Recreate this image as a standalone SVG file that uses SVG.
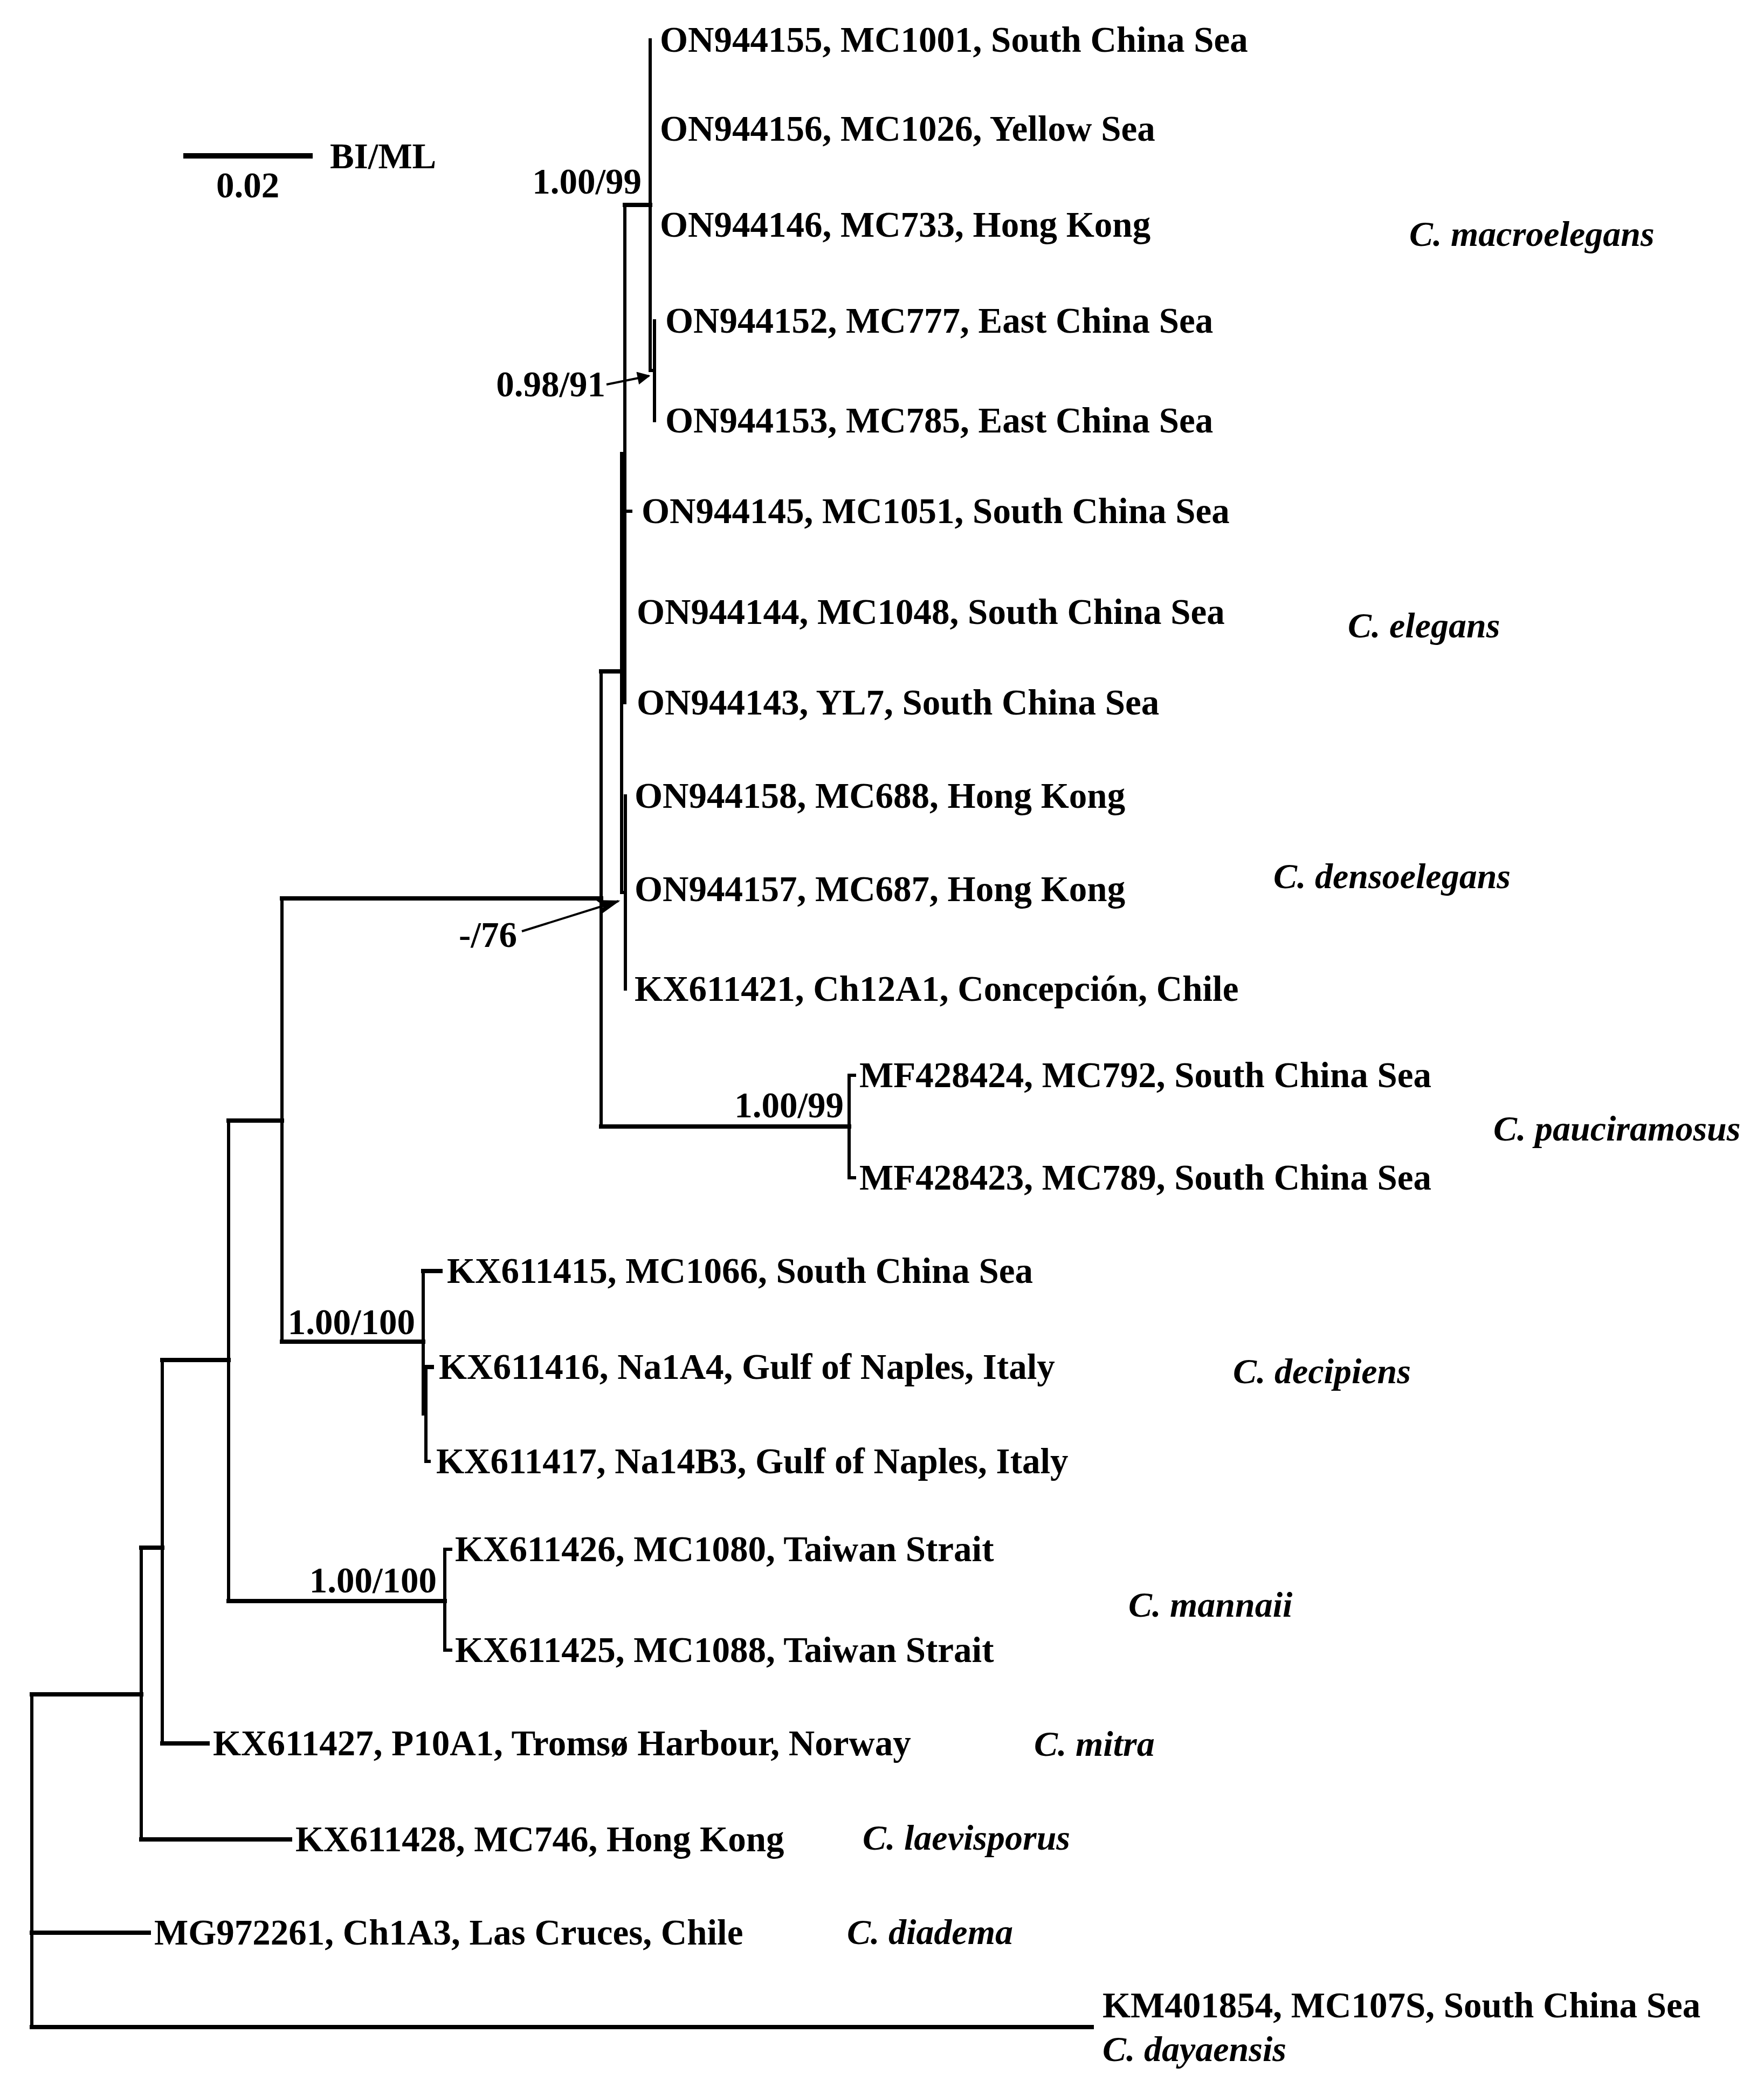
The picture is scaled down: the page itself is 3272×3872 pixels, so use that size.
<svg xmlns="http://www.w3.org/2000/svg" width="3272" height="3872" viewBox="0 0 3272 3872">
<style>
text{font-family:"Liberation Serif","Times New Roman",serif;font-weight:bold;font-size:67px;fill:#000}
.sp{font-style:italic;font-size:66px}
.e{text-anchor:end}
.h{stroke:#000;stroke-width:8;fill:none;stroke-linecap:square}
.v{stroke:#000;stroke-width:6;fill:none;stroke-linecap:square}
.a{stroke:#000;stroke-width:4;fill:none}
</style>
<defs>
<marker id="ah" viewBox="0 0 10 10" refX="9" refY="5" markerWidth="7" markerHeight="6" orient="auto" markerUnits="strokeWidth">
<path d="M0,0 L10,5 L0,10 z" fill="#000"/>
</marker>
<marker id="ahb" viewBox="0 0 12 10" refX="11" refY="5" markerWidth="11" markerHeight="9" orient="auto" markerUnits="strokeWidth">
<path d="M0,1 L12,5 L0,9 L3,5 z" fill="#000"/>
</marker>
</defs>
<rect width="3272" height="3872" fill="#fff"/>
<g id="scalebar">
<line x1="340" y1="289" x2="580" y2="289" stroke="#000" stroke-width="10"/>
<text x="612" y="312">BI/ML</text>
<text x="401" y="366">0.02</text>
</g>
<g id="connectors">
<line class="v" x1="59" y1="3142" x2="59" y2="3759"/>
<line class="h" x1="59" y1="3759" x2="2025" y2="3759"/>
<line class="h" x1="59" y1="3584" x2="276" y2="3584"/>
<line class="h" x1="59" y1="3142" x2="262" y2="3142"/>
<line class="v" x1="262" y1="2870" x2="262" y2="3411"/>
<line class="h" x1="262" y1="3411" x2="538" y2="3411"/>
<line class="h" x1="262" y1="2870" x2="301" y2="2870"/>
<line class="v" x1="301" y1="2522" x2="301" y2="3233"/>
<line class="h" x1="301" y1="3233" x2="385" y2="3233"/>
<line class="h" x1="301" y1="2522" x2="424" y2="2522"/>
<line class="v" x1="424" y1="2078" x2="424" y2="2969"/>
<line class="h" x1="424" y1="2969" x2="825" y2="2969"/>
<line class="h" x1="424" y1="2078" x2="523" y2="2078"/>
<line class="v" x1="825" y1="2873" x2="825" y2="3060"/>
<line class="v" x1="825" y1="2873" x2="836" y2="2873"/>
<line class="v" x1="825" y1="3060" x2="836" y2="3060"/>
<line class="v" x1="523" y1="1666" x2="523" y2="2488"/>
<line class="h" x1="523" y1="2488" x2="785" y2="2488"/>
<line class="h" x1="523" y1="1666" x2="1115" y2="1666"/>
<line class="v" x1="785" y1="2357" x2="785" y2="2622"/>
<line class="h" x1="785" y1="2357" x2="817" y2="2357"/>
<line class="v" x1="790" y1="2535" x2="790" y2="2710"/>
<line class="v" x1="785" y1="2622" x2="790" y2="2622"/>
<line class="h" x1="790" y1="2535" x2="801" y2="2535"/>
<line class="v" x1="790" y1="2710" x2="796" y2="2710"/>
<line class="v" x1="1115" y1="1245" x2="1115" y2="2089"/>
<line class="h" x1="1115" y1="2089" x2="1575" y2="2089"/>
<line class="h" x1="1115" y1="1245" x2="1153" y2="1245"/>
<line class="v" x1="1575" y1="1994" x2="1575" y2="2184"/>
<line class="v" x1="1575" y1="1994" x2="1585" y2="1994"/>
<line class="v" x1="1575" y1="2184" x2="1585" y2="2184"/>
<line class="v" x1="1153" y1="841" x2="1153" y2="1655"/>
<line class="v" x1="1153" y1="841" x2="1159" y2="841"/>
<line class="v" x1="1153" y1="1655" x2="1159" y2="1655"/>
<line class="v" x1="1159" y1="380" x2="1159" y2="1303"/>
<line class="h" x1="1159" y1="380" x2="1206" y2="380"/>
<line class="v" x1="1159" y1="948" x2="1170" y2="948"/>
<line class="v" x1="1160" y1="1476" x2="1160" y2="1834"/>
<line class="v" x1="1206" y1="74" x2="1206" y2="687"/>
<line class="v" x1="1206" y1="687" x2="1214" y2="687"/>
<line class="v" x1="1214" y1="595" x2="1214" y2="780"/>
<line class="a" x1="968" y1="1727" x2="1147" y2="1671" marker-end="url(#ahb)"/>
<line class="a" x1="1125" y1="713" x2="1204" y2="697" marker-end="url(#ah)"/>
</g>
<g id="support">
<text class="e" x="1190" y="359">1.00/99</text>
<text class="e" x="1123" y="735">0.98/91</text>
<text x="851" y="1756">-/76</text>
<text class="e" x="1565" y="2072">1.00/99</text>
<text class="e" x="770" y="2474">1.00/100</text>
<text class="e" x="810" y="2953">1.00/100</text>
</g>
<g id="leaf-ON944155"><text x="1224" y="96">ON944155, MC1001, South China Sea</text></g>
<g id="leaf-ON944156"><text x="1224" y="261">ON944156, MC1026, Yellow Sea</text></g>
<g id="leaf-ON944146"><text x="1224" y="439">ON944146, MC733, Hong Kong</text></g>
<g id="leaf-ON944152"><text x="1234" y="617">ON944152, MC777, East China Sea</text></g>
<g id="leaf-ON944153"><text x="1234" y="802">ON944153, MC785, East China Sea</text></g>
<g id="leaf-ON944145"><text x="1190" y="970">ON944145, MC1051, South China Sea</text></g>
<g id="leaf-ON944144"><text x="1181" y="1157">ON944144, MC1048, South China Sea</text></g>
<g id="leaf-ON944143"><text x="1181" y="1325">ON944143, YL7, South China Sea</text></g>
<g id="leaf-ON944158"><text x="1177" y="1498">ON944158, MC688, Hong Kong</text></g>
<g id="leaf-ON944157"><text x="1177" y="1671">ON944157, MC687, Hong Kong</text></g>
<g id="leaf-KX611421"><text x="1177" y="1856">KX611421, Ch12A1, Concepción, Chile</text></g>
<g id="leaf-MF428424"><text x="1594" y="2016">MF428424, MC792, South China Sea</text></g>
<g id="leaf-MF428423"><text x="1594" y="2206">MF428423, MC789, South China Sea</text></g>
<g id="leaf-KX611415"><text x="829" y="2379">KX611415, MC1066, South China Sea</text></g>
<g id="leaf-KX611416"><text x="814" y="2557">KX611416, Na1A4, Gulf of Naples, Italy</text></g>
<g id="leaf-KX611417"><text x="809" y="2732">KX611417, Na14B3, Gulf of Naples, Italy</text></g>
<g id="leaf-KX611426"><text x="844" y="2895">KX611426, MC1080, Taiwan Strait</text></g>
<g id="leaf-KX611425"><text x="844" y="3082">KX611425, MC1088, Taiwan Strait</text></g>
<g id="leaf-KX611427"><text x="395" y="3255">KX611427, P10A1, Tromsø Harbour, Norway</text></g>
<g id="leaf-KX611428"><text x="548" y="3433">KX611428, MC746, Hong Kong</text></g>
<g id="leaf-MG972261"><text x="286" y="3606">MG972261, Ch1A3, Las Cruces, Chile</text></g>
<g id="leaf-KM401854"><text x="2045" y="3741">KM401854, MC107S, South China Sea</text></g>
<g id="species">
<text class="sp" x="2614" y="456">C. macroelegans</text>
<text class="sp" x="2500" y="1182">C. elegans</text>
<text class="sp" x="2362" y="1647">C. densoelegans</text>
<text class="sp" x="2770" y="2115">C. pauciramosus</text>
<text class="sp" x="2287" y="2565">C. decipiens</text>
<text class="sp" x="2093" y="2998">C. mannaii</text>
<text class="sp" x="1918" y="3256">C. mitra</text>
<text class="sp" x="1600" y="3430">C. laevisporus</text>
<text class="sp" x="1571" y="3605">C. diadema</text>
<text class="sp" x="2045" y="3822">C. dayaensis</text>
</g>
</svg>
